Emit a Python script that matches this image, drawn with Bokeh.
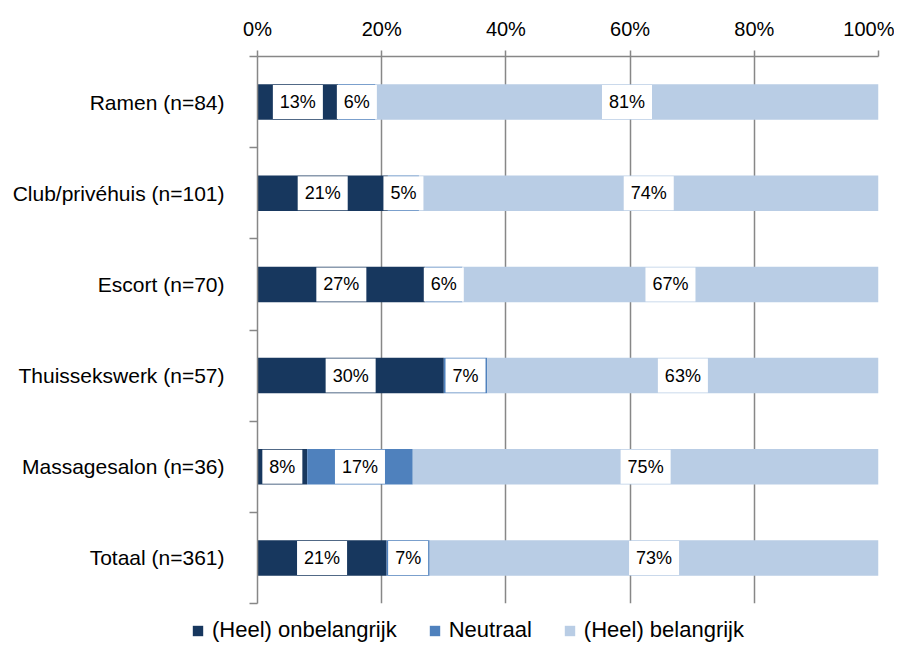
from bokeh.plotting import figure
from bokeh.layouts import column
from bokeh.models import (ColumnDataSource, Range1d, FixedTicker, PrintfTickFormatter,
                          Legend, LegendItem)
from bokeh.core.properties import value
from bokeh.embed import file_html
from bokeh.resources import INLINE

categories = ["Ramen (n=84)", "Club/privéhuis (n=101)", "Escort (n=70)",
              "Thuissekswerk (n=57)", "Massagesalon (n=36)", "Totaal (n=361)"]
onbelangrijk = [13, 21, 27, 30, 8, 21]
neutraal = [6, 5, 6, 7, 17, 7]
belangrijk = [81, 74, 67, 63, 75, 73]
series_names = ["(Heel) onbelangrijk", "Neutraal", "(Heel) belangrijk"]
x_ticks = [0, 20, 40, 60, 80, 100]

colors = ["#17375E", "#4F81BD", "#B9CDE5"]
FONT = "Liberation Sans"

n = len(categories)
ypos = [n - 0.5 - i for i in range(n)]
series = [onbelangrijk, neutraal, belangrijk]
totals = [sum(s[i] for s in series) for i in range(n)]

p = figure(width=894, height=613, output_backend="svg", toolbar_location=None,
           x_range=Range1d(0, 100), y_range=Range1d(0, n),
           x_axis_location="above",
           min_border_left=257, min_border_right=16, min_border_top=56, min_border_bottom=10)
p.outline_line_color = None
p.background_fill_color = "white"
p.border_fill_color = "white"

lab_x, lab_y, lab_t = [], [], []
cum = [0.0] * n
for k, s in enumerate(series):
    left = [cum[i] for i in range(n)]
    right = [cum[i] + s[i] * 100.0 / totals[i] for i in range(n)]
    src = ColumnDataSource(dict(y=ypos, left=left, right=right))
    p.hbar(y="y", left="left", right="right", height=0.39, source=src,
           fill_color=colors[k], line_color=None)
    for i in range(n):
        lab_x.append((left[i] + right[i]) / 2)
        lab_y.append(ypos[i])
        lab_t.append(f"{s[i]}%")
    cum = right

lsrc = ColumnDataSource(dict(x=lab_x, y=lab_y, t=lab_t))
p.text(x="x", y="y", text="t", source=lsrc, text_align="center", text_baseline="middle",
       text_font=value(FONT), text_font_size="18px", text_color="#000000",
       background_fill_color="white",
       padding=dict(left=7, right=7, top=7, bottom=7))

axis_col = "#878787"
# top x axis
xa = p.xaxis[0]
xa.ticker = FixedTicker(ticks=x_ticks)
xa.formatter = PrintfTickFormatter(format="%d%%")
xa.axis_line_color = axis_col
xa.axis_line_width = 1.5
xa.major_tick_line_color = axis_col
xa.major_tick_line_width = 1.5
xa.major_tick_out = 6
xa.major_tick_in = 0
xa.minor_tick_line_color = None
xa.major_label_text_font = FONT
xa.major_label_text_font_size = "20px"
xa.major_label_text_color = "#000000"
xa.major_label_standoff = 11

# left y axis
ya = p.yaxis[0]
ya.ticker = FixedTicker(ticks=ypos, minor_ticks=list(range(n + 1)))
ya.major_label_overrides = {ypos[i]: categories[i] for i in range(n)}
ya.axis_line_color = axis_col
ya.axis_line_width = 1.5
ya.major_tick_line_color = None
ya.major_tick_out = 0
ya.major_tick_in = 0
ya.minor_tick_line_color = axis_col
ya.minor_tick_line_width = 1.5
ya.minor_tick_out = 8
ya.minor_tick_in = 0
ya.major_label_text_font = FONT
ya.major_label_text_font_size = "21px"
ya.major_label_text_color = "#000000"
ya.major_label_standoff = 25

p.xgrid.grid_line_color = axis_col
p.xgrid.grid_line_width = 1.5
p.ygrid.grid_line_color = None

# legend strip below the chart: swatches come from zero-width (invisible) bars
lf = figure(width=894, height=30, output_backend="svg", toolbar_location=None,
            x_axis_type=None, y_axis_type=None,
            x_range=Range1d(0, 100), y_range=Range1d(0, 1),
            min_border_left=0, min_border_right=0, min_border_top=0, min_border_bottom=0)
lf.frame_align = False
lf.outline_line_color = None
lf.background_fill_color = "white"
lf.border_fill_color = "white"
leg_renderers = []
for k in range(3):
    lsrc_k = ColumnDataSource(dict(y=[0.5], left=[0], right=[0]))
    leg_renderers.append(lf.hbar(y="y", left="left", right="right", height=0.0,
                                 source=lsrc_k, fill_color=colors[k], line_color=None))
legend = Legend(items=[LegendItem(label=series_names[k], renderers=[leg_renderers[k]])
                       for k in range(3)],
                orientation="horizontal", location=(191, 0),
                glyph_width=13, glyph_height=13, label_standoff=8, spacing=31,
                padding=0, margin=0, border_line_color=None, background_fill_alpha=0,
                label_text_font=FONT, label_text_font_size="22px", label_text_color="#000000")
lf.add_layout(legend, "center")

layout = column(p, lf, spacing=0)
open("out.html", "w").write(file_html(layout, INLINE))
